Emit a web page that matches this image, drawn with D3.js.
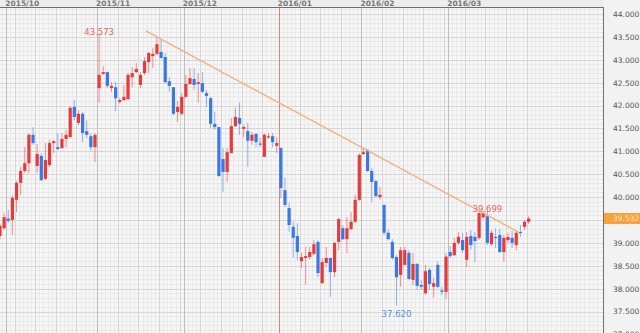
<!DOCTYPE html>
<html>
<head>
<meta charset="utf-8">
<script src="https://cdn.jsdelivr.net/npm/d3@7"></script>
<style>
html, body { margin: 0; padding: 0; background: #ededed; overflow: hidden; }
svg { display: block; font-family: "DejaVu Sans", "Noto Sans", sans-serif; }
</style>
</head>
<body>
<div id="chart"></div>
<script>
// daily candles, [open, high, low, close], 2015/09/29 .. 2016/03/29
var ohlc = [
    [39.15, 39.42, 39.08, 39.37], [39.32, 39.65, 39.28, 39.56], [39.53, 39.72, 39.43, 39.48], [39.50, 40.04, 39.17, 39.98],
    [39.94, 40.35, 39.67, 40.31], [40.31, 40.66, 40.05, 40.57], [40.57, 41.09, 40.53, 40.74], [40.74, 41.40, 40.53, 41.36],
    [41.36, 41.53, 41.14, 41.18], [40.68, 41.16, 40.53, 40.94], [40.90, 40.96, 40.35, 40.37], [40.40, 41.18, 40.37, 40.81],
    [40.70, 41.25, 40.66, 41.18], [41.18, 41.25, 40.96, 41.22], [41.09, 41.40, 41.03, 41.05], [41.07, 41.40, 41.05, 41.27],
    [41.27, 41.47, 41.09, 41.36], [41.31, 41.99, 41.31, 41.95], [41.97, 42.12, 41.68, 41.75], [41.62, 41.90, 41.57, 41.82],
    [41.82, 41.86, 41.20, 41.40], [41.44, 41.68, 41.29, 41.36], [41.33, 41.40, 41.01, 41.09], [41.09, 41.40, 40.77, 41.36],
    [42.38, 43.573, 42.06, 42.67], [42.69, 42.86, 42.67, 42.73], [42.73, 42.75, 42.38, 42.43], [42.38, 42.51, 42.30, 42.43],
    [42.40, 42.51, 41.88, 42.16], [42.08, 42.16, 42.04, 42.12], [42.12, 42.45, 42.10, 42.19], [42.14, 42.71, 42.12, 42.67],
    [42.62, 42.84, 42.40, 42.71], [42.73, 42.93, 42.71, 42.80], [42.45, 42.73, 42.38, 42.67], [42.71, 43.06, 42.67, 42.97],
    [42.95, 43.17, 42.71, 43.15], [43.08, 43.26, 42.82, 43.13], [43.13, 43.50, 43.10, 43.34], [43.17, 43.45, 43.02, 43.04],
    [43.06, 43.15, 42.49, 42.51], [42.53, 42.62, 42.30, 42.43], [42.40, 42.40, 41.79, 41.82], [41.86, 42.10, 41.64, 41.97],
    [41.82, 42.27, 41.79, 42.19], [42.19, 42.67, 42.16, 42.47], [42.47, 42.82, 42.45, 42.60], [42.58, 42.82, 42.34, 42.45],
    [42.47, 42.71, 42.06, 42.51], [42.49, 42.73, 42.27, 42.30], [42.27, 42.34, 41.97, 42.21], [42.16, 42.19, 41.51, 41.60],
    [41.60, 41.86, 41.47, 41.53], [41.53, 41.53, 40.44, 40.46], [40.83, 41.07, 40.11, 40.55], [40.55, 41.07, 40.33, 40.98],
    [40.96, 41.73, 40.96, 41.55], [41.55, 41.95, 41.53, 41.75], [41.73, 42.06, 41.36, 41.60], [41.49, 41.57, 41.31, 41.53],
    [41.44, 41.62, 40.66, 41.23], [41.23, 41.42, 41.14, 41.36], [41.38, 41.40, 41.09, 41.20], [41.17, 41.29, 41.09, 41.15],
    [40.88, 41.40, 40.88, 41.36], [41.31, 41.40, 41.27, 41.33], [41.33, 41.40, 41.09, 41.20], [41.12, 41.31, 40.96, 41.18],
    [41.07, 41.09, 39.98, 40.20], [40.15, 40.42, 39.78, 39.83], [39.76, 39.87, 39.24, 39.39], [39.35, 39.46, 38.67, 39.11],
    [39.15, 39.43, 38.63, 38.80], [38.60, 38.78, 38.45, 38.69], [38.67, 38.91, 38.08, 38.71], [38.69, 38.91, 38.63, 38.80],
    [38.76, 39.06, 38.73, 38.97], [39.02, 39.06, 38.25, 38.34], [38.12, 38.67, 38.10, 38.58], [38.56, 38.91, 38.47, 38.67],
    [38.67, 38.67, 37.82, 38.36], [38.36, 39.02, 38.25, 39.00], [39.02, 39.54, 38.84, 39.52], [39.32, 39.39, 39.06, 39.08],
    [39.08, 39.56, 38.78, 39.32], [39.30, 39.67, 39.28, 39.46], [39.46, 40.05, 39.43, 39.94], [39.94, 40.96, 39.91, 40.92],
    [40.94, 41.07, 40.92, 40.98], [41.03, 41.05, 40.55, 40.57], [40.57, 40.64, 39.89, 40.33], [40.35, 40.37, 40.00, 40.02],
    [40.00, 40.22, 39.94, 40.05], [39.83, 39.83, 39.17, 39.22], [39.22, 39.30, 39.06, 39.08], [39.02, 39.08, 38.63, 38.67],
    [38.69, 38.73, 37.62, 38.25], [38.30, 38.91, 38.04, 38.84], [38.52, 38.91, 38.50, 38.84], [38.78, 38.84, 38.19, 38.21],
    [38.19, 38.78, 38.08, 38.54], [38.54, 38.56, 37.97, 38.06], [38.08, 38.19, 37.97, 38.04], [37.90, 38.52, 37.86, 38.38],
    [38.41, 38.45, 37.97, 38.10], [38.04, 38.24, 37.80, 38.12], [38.52, 38.60, 38.01, 38.04], [37.96, 38.04, 37.86, 37.93],
    [37.93, 38.78, 37.77, 38.70], [38.80, 38.93, 38.67, 38.71], [38.73, 39.11, 38.71, 39.00], [39.00, 39.24, 38.95, 39.13],
    [39.06, 39.22, 38.78, 38.84], [38.63, 39.24, 38.47, 39.13], [39.15, 39.28, 38.85, 38.95], [39.13, 39.24, 38.58, 39.04],
    [39.11, 39.67, 39.06, 39.65], [39.56, 39.69, 39.52, 39.65], [39.58, 39.699, 38.95, 39.00], [38.97, 39.28, 38.93, 39.22],
    [39.13, 39.32, 38.89, 39.11], [39.17, 39.30, 38.78, 38.80], [38.80, 39.17, 38.58, 39.11], [39.06, 39.22, 39.00, 39.13],
    [39.11, 39.26, 38.89, 39.00], [38.95, 39.28, 38.84, 39.22], [39.24, 39.39, 39.13, 39.22], [39.35, 39.50, 39.28, 39.46],
    [39.46, 39.58, 39.41, 39.532]
];

var monthLabels = ["2015/10", "2015/11", "2015/12", "2016/01", "2016/02", "2016/03"];
var monthStarts = [2, 24, 45, 68, 88, 109];
var weekStarts = [4, 9, 14, 19, 24, 29, 34, 39, 44, 49, 54, 59, 64, 68, 73, 78, 83, 88, 93, 98, 103, 108, 113, 118, 123, 128];
var yTicks = [37.0, 37.5, 38.0, 38.5, 39.0, 39.5, 40.0, 40.5, 41.0, 41.5, 42.0, 42.5, 43.0, 43.5, 44.0];
var highMarks = [24, 118];
var lowMarks = [96];
var trendLine = [[35.3, 43.63], [125.4, 39.24]];
var lastPrice = 39.532;

var width = 640, height = 333;
var plotRight = 603, plotTop = 7;
var upColor = "#e53b3b", downColor = "#3b78e2";

var x = d3.scaleLinear().domain([0, 146]).range([0, plotRight]);
var y = d3.scaleLinear().domain([37.5, 44]).range([311.5, 14]);
var fmt = d3.format(".3f");

var svg = d3.select("#chart").append("svg")
    .attr("width", width)
    .attr("height", height);

svg.append("rect")
    .attr("x", 0).attr("y", plotTop)
    .attr("width", plotRight).attr("height", height - plotTop)
    .attr("fill", "#f6f6f6");

var grid = svg.append("g").attr("shape-rendering", "crispEdges");

// fine grid
grid.selectAll(".vmin")
    .data(d3.range(0, 146))
    .enter().append("line")
    .attr("x1", function (d) { return Math.round(x(d) - 2) + 0.5; })
    .attr("x2", function (d) { return Math.round(x(d) - 2) + 0.5; })
    .attr("y1", plotTop).attr("y2", height)
    .attr("stroke", "#e9e9e9");

grid.selectAll(".hmin")
    .data(d3.range(370, 443).map(function (d) { return d / 10; }))
    .enter().append("line")
    .attr("x1", 0).attr("x2", plotRight)
    .attr("y1", function (d) { return Math.round(y(d)) + 0.5; })
    .attr("y2", function (d) { return Math.round(y(d)) + 0.5; })
    .attr("stroke", "#e9e9e9");

// weekly and half-unit lines
grid.selectAll(".week")
    .data(weekStarts)
    .enter().append("line")
    .attr("x1", function (d) { return Math.round(x(d) - 2) + 0.5; })
    .attr("x2", function (d) { return Math.round(x(d) - 2) + 0.5; })
    .attr("y1", plotTop).attr("y2", height)
    .attr("stroke", "#d6d6d6");

grid.selectAll(".hmaj")
    .data(yTicks)
    .enter().append("line")
    .attr("x1", 0).attr("x2", plotRight)
    .attr("y1", function (d) { return Math.round(y(d)) + 0.5; })
    .attr("y2", function (d) { return Math.round(y(d)) + 0.5; })
    .attr("stroke", "#d6d6d6");

grid.selectAll(".month")
    .data(monthStarts)
    .enter().append("line")
    .attr("x1", function (d) { return Math.round(x(d) - 2) + 0.5; })
    .attr("x2", function (d) { return Math.round(x(d) - 2) + 0.5; })
    .attr("y1", plotTop).attr("y2", height)
    .attr("stroke", function (d, i) { return monthLabels[i] == "2016/01" ? "#ea7c7c" : "#bdbdbd"; })
    .attr("stroke-width", function (d, i) { return monthLabels[i] == "2016/01" ? 1.5 : 1; });

// candles
var candle = svg.selectAll(".candle")
    .data(ohlc)
    .enter().append("g")
    .attr("transform", function (d, i) { return "translate(" + x(i) + ",0)"; });

candle.append("line")
    .attr("x1", 0).attr("x2", 0)
    .attr("y1", function (d) { return y(d[1]); })
    .attr("y2", function (d) { return y(d[2]); })
    .attr("stroke", function (d) { return d[3] >= d[0] ? upColor : downColor; })
    .attr("stroke-opacity", 0.55)
    .attr("stroke-width", 1);

candle.append("rect")
    .attr("x", -1.6)
    .attr("width", 3.2)
    .attr("y", function (d) { return y(Math.max(d[0], d[3])); })
    .attr("height", function (d) { return Math.max(1.2, Math.abs(y(d[0]) - y(d[3]))); })
    .attr("fill", function (d) { return d[3] >= d[0] ? upColor : downColor; });

// trend line
svg.append("line")
    .attr("x1", x(trendLine[0][0])).attr("y1", y(trendLine[0][1]))
    .attr("x2", x(trendLine[1][0])).attr("y2", y(trendLine[1][1]))
    .attr("stroke", "#f5ad7c")
    .attr("stroke-width", 1.3);

// high / low labels
svg.selectAll(".hi")
    .data(highMarks)
    .enter().append("text")
    .attr("x", function (d) { return x(d); })
    .attr("y", function (d) { return y(ohlc[d][1]) + 1; })
    .attr("text-anchor", "middle")
    .attr("font-size", 8.5)
    .attr("fill", "#ef6464")
    .text(function (d) { return fmt(ohlc[d][1]); });

svg.selectAll(".lo")
    .data(lowMarks)
    .enter().append("text")
    .attr("x", function (d) { return x(d); })
    .attr("y", function (d) { return y(ohlc[d][2]) + 11; })
    .attr("text-anchor", "middle")
    .attr("font-size", 8.5)
    .attr("fill", "#5b92e4")
    .text(function (d) { return fmt(ohlc[d][2]); });

// right axis panel
svg.append("rect")
    .attr("x", plotRight).attr("y", 0)
    .attr("width", width - plotRight).attr("height", height)
    .attr("fill", "#f2f2f2");

var yAxis = d3.axisRight(y)
    .tickValues(yTicks)
    .tickSize(0)
    .tickPadding(10)
    .tickFormat(fmt);

var ax = svg.append("g")
    .attr("transform", "translate(" + plotRight + ",0)")
    .call(yAxis);
ax.select(".domain").remove();
ax.selectAll("text")
    .attr("font-size", 7.5)
    .attr("font-family", "DejaVu Sans, sans-serif")
    .attr("fill", "#555");

// last price tag
svg.append("rect")
    .attr("x", plotRight).attr("y", y(lastPrice) - 5.5)
    .attr("width", width - plotRight).attr("height", 11)
    .attr("fill", "#f7a23c");
svg.append("text")
    .attr("x", plotRight + 10).attr("y", y(lastPrice) + 3)
    .attr("font-size", 7.5)
    .attr("fill", "#fde6c6")
    .text(fmt(lastPrice));

// top month labels
svg.selectAll(".mlab")
    .data(monthStarts)
    .enter().append("text")
    .attr("x", function (d) { return x(d) - 3; })
    .attr("y", 6)
    .attr("font-size", 7.5)
    .attr("font-weight", "bold")
    .attr("fill", "#777")
    .text(function (d, i) { return monthLabels[i]; });

// frame
svg.append("path")
    .attr("d", "M0," + (plotTop + 0.5) + "H" + (plotRight + 0.5) + "V" + height)
    .attr("fill", "none")
    .attr("stroke", "#6f6f6f")
    .attr("shape-rendering", "crispEdges");
</script>
</body>
</html>
